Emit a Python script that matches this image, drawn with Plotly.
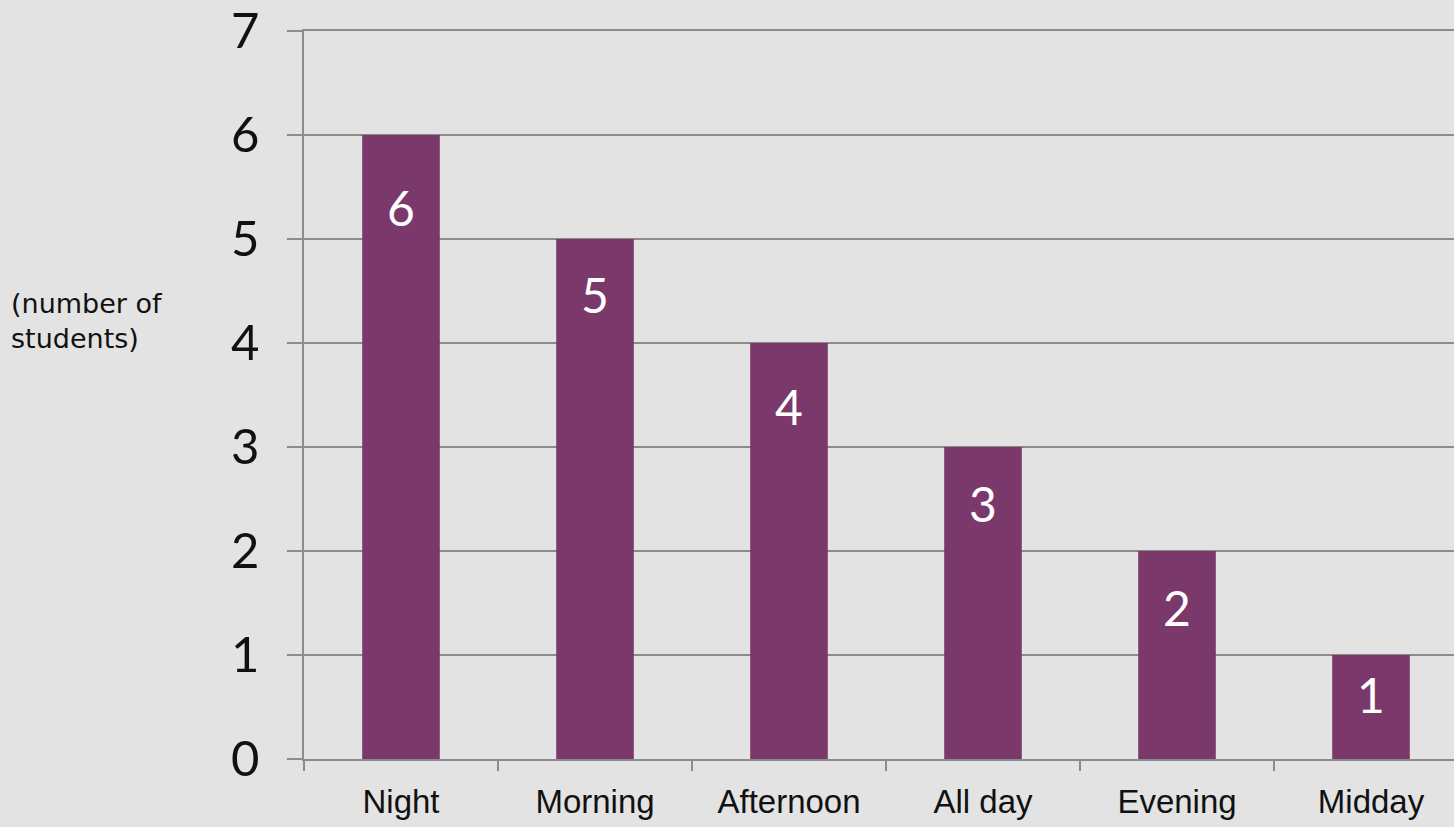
import plotly.graph_objects as go

categories = ["Night", "Morning", "Afternoon", "All day", "Evening", "Midday"]
students = [6, 5, 4, 3, 2, 1]
y_ticks = [0, 1, 2, 3, 4, 5, 6, 7]

# vertical offset (px) of each value label below its bar top
label_offsets_px = [72, 55, 63, 56, 56, 39]

bar_color = "#7b386b"
grid_color = "#8c8c8c"
bg_color = "#e3e3e3"
geo_font = "Lato, 'Open Sans', sans-serif"
cap_font = "'DejaVu Sans', sans-serif"
cat_font = "'Liberation Sans', Arial, sans-serif"

fig = go.Figure()
fig.add_trace(go.Bar(
    x=categories,
    y=students,
    marker=dict(color=bar_color, line=dict(width=0)),
    width=0.4,
    hoverinfo="skip",
))

# value labels inside each bar, below its top
for cat, v, off in zip(categories, students, label_offsets_px):
    fig.add_annotation(
        x=cat, y=v, text=str(v), showarrow=False,
        yshift=-off, font=dict(family=geo_font, size=48, color="white"),
    )

# y-axis caption on the left
fig.add_annotation(
    xref="paper", yref="paper",
    x=(9 - 304) / 1150, y=(759 - 320) / 730,
    xanchor="left", yanchor="middle", align="left",
    text="(number of<br>students)", showarrow=False,
    font=dict(family=cap_font, size=27, color="#111111"),
)

fig.update_layout(
    width=1454, height=827,
    margin=dict(l=304, r=0, t=29, b=68),
    paper_bgcolor=bg_color, plot_bgcolor=bg_color,
    showlegend=False,
    xaxis=dict(
        type="category",
        range=[-0.5, -0.5 + 1150 / 194],
        tickson="boundaries",
        ticks="outside", ticklen=10, tickwidth=1.5, tickcolor=grid_color,
        showgrid=False, showline=True, mirror=True,
        linecolor=grid_color, linewidth=1.5,
        tickfont=dict(family=cat_font, size=33, color="#111111"),
        ticklabelstandoff=13,
    ),
    yaxis=dict(
        range=[0, 7],
        tickvals=y_ticks,
        ticks="outside", ticklen=15, tickwidth=1.5, tickcolor=grid_color,
        showgrid=True, gridcolor=grid_color, gridwidth=1.5,
        showline=True, linecolor=grid_color, linewidth=1.5,
        zeroline=False,
        tickfont=dict(family=geo_font, size=49, color="#111111"),
        ticklabelstandoff=18,
        ticklabeloverflow="allow",
    ),
)

fig.write_html("out.html")
